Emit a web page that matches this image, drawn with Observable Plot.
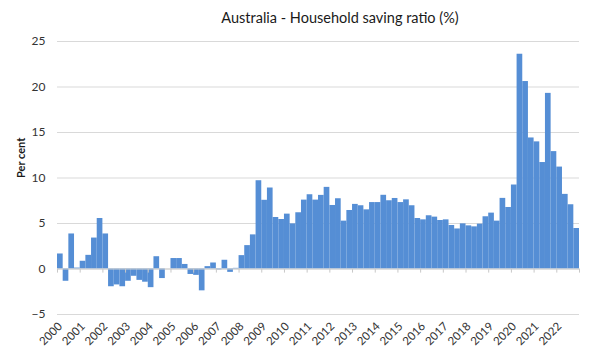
<!DOCTYPE html>
<html>
<head>
<meta charset="utf-8">
<script src="https://cdn.jsdelivr.net/npm/d3@7"></script>
<script src="https://cdn.jsdelivr.net/npm/@observablehq/plot@0.6"></script>
<style>
  body { margin: 0; background: #fff; }
  #wrap { width: 600px; height: 360px; position: relative; font-family: Lato, "Liberation Sans", sans-serif; }
  #title { height: 30px; line-height: 36px; padding-left: 80px; text-align: center; font-size: 14.5px; color: #1a1a1a; }
</style>
</head>
<body>
<div id="wrap">
  <div id="title"></div>
  <div id="chart"></div>
</div>
<script>
const chartTitle = "Australia - Household saving ratio (%)";
const yAxisLabel = "Per cent";

// Year labels, one every four quarters (2000 Q1 ... 2022 Q1)
const yearLabels = ["2000","2001","2002","2003","2004","2005","2006","2007","2008","2009","2010","2011",
  "2012","2013","2014","2015","2016","2017","2018","2019","2020","2021","2022"];

// Quarterly household saving ratio, 2000 Q1 to 2022 Q4 (%)
const savingRatio = [
  1.65, -1.35, 3.85, 0.1,
  0.85, 1.5, 3.4, 5.55,
  3.85, -1.95, -1.75, -1.95,
  -1.35, -0.8, -1.25, -1.45,
  -2.05, 1.35, -1.05, 0.0,
  1.15, 1.15, 0.5, -0.6,
  -0.7, -2.4, 0.26, 0.66,
  -0.1, 0.96, -0.37, 0.07,
  1.47, 2.57, 3.75, 9.7,
  7.55, 8.9, 5.66, 5.44,
  6.03, 4.96, 6.18, 7.57,
  8.16, 7.57, 8.09, 8.97,
  6.98, 7.72, 5.26, 6.43,
  7.1, 6.95, 6.5, 7.3,
  7.3, 8.1, 7.5, 7.75,
  7.3, 7.6, 6.95, 5.55,
  5.4, 5.85, 5.7, 5.33,
  5.4, 4.78, 4.4, 4.96,
  4.74, 4.63, 4.93, 5.74,
  6.14, 5.26, 7.76, 6.76,
  9.23, 23.6, 20.6, 14.4,
  13.97, 11.7, 19.3, 12.9,
  11.2, 8.2, 7.06, 4.45
];

const yTicks = [-5, 0, 5, 10, 15, 20, 25];

document.getElementById("title").textContent = chartTitle;

const data = savingRatio.map((v, i) => ({ i, v }));
const labelPos = yearLabels.map((_, k) => k * 4 + 0.5);
const tickPos = d3.range(0, savingRatio.length + 1, 4);

const plot = Plot.plot({
  width: 600,
  height: 330,
  marginTop: 11,
  marginBottom: 46,
  marginLeft: 57,
  marginRight: 21,
  style: { fontFamily: "Lato, 'Liberation Sans', sans-serif", fontSize: "12px", color: "#333", background: "#fff" },
  x: { domain: [0, savingRatio.length] },
  y: { domain: [-5, 25] },
  marks: [
    Plot.ruleY(yTicks, { stroke: "#d9d9d9", strokeWidth: 1 }),
    Plot.rectY(data, { x1: "i", x2: d => d.i + 1, y1: 0, y2: "v", fill: "#558ed5" }),
    Plot.ruleY([0], { stroke: "#d0d0d0" }),
    Plot.ruleX(tickPos, { y1: 0, y2: -0.45, stroke: "#c8c8c8" }),
    Plot.axisY(yTicks, { tickSize: 0, tickPadding: 12, label: null, fontSize: 12 }),
    Plot.axisX(labelPos, {
      tickSize: 0, tickRotate: -45, tickPadding: 10, label: null, fontSize: 11.5,
      tickFormat: d => yearLabels[Math.round((d - 0.5) / 4)]
    }),
    Plot.text([yAxisLabel], { frameAnchor: "left", dx: -36, rotate: -90, fontWeight: "bold", fontSize: 11, fill: "#1a1a1a" })
  ]
});
document.getElementById("chart").appendChild(plot);
</script>
</body>
</html>
